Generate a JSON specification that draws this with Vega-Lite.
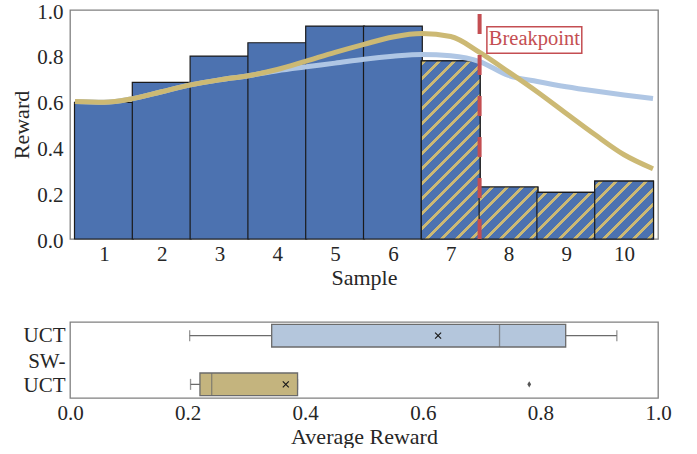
{
  "$schema": "https://vega.github.io/schema/vega-lite/v6.json",
  "background": "white",
  "padding": {"left": 10, "top": 0, "right": 5, "bottom": 0},
  "spacing": 32,
  "config": {
    "font": "Liberation Serif",
    "view": {"stroke": "#808080", "strokeWidth": 1.3},
    "axis": {
      "labelFont": "Liberation Serif", "titleFont": "Liberation Serif",
      "labelFontSize": 21, "titleFontSize": 22, "titleFontWeight": "normal",
      "labelColor": "#262626", "titleColor": "#262626",
      "ticks": false, "domain": false, "grid": false,
      "labelOverlap": false, "labelFlush": false
    },
    "axisX": {"labelPadding": 4, "titlePadding": 3}
  },
  "datasets": {
    "samples": [
      {"Sample": 1, "Reward": 0.597},
      {"Sample": 2, "Reward": 0.684},
      {"Sample": 3, "Reward": 0.799},
      {"Sample": 4, "Reward": 0.857},
      {"Sample": 5, "Reward": 0.930},
      {"Sample": 6, "Reward": 0.930},
      {"Sample": 7, "Reward": 0.778},
      {"Sample": 8, "Reward": 0.227},
      {"Sample": 9, "Reward": 0.2035},
      {"Sample": 10, "Reward": 0.253}
    ],
    "curves": [
      {"Method": "UCT", "Sample": 0.5, "Reward": 0.600},
      {"Method": "UCT", "Sample": 1.0, "Reward": 0.597},
      {"Method": "UCT", "Sample": 1.5, "Reward": 0.613},
      {"Method": "UCT", "Sample": 2.0, "Reward": 0.643},
      {"Method": "UCT", "Sample": 2.5, "Reward": 0.673},
      {"Method": "UCT", "Sample": 3.0, "Reward": 0.695},
      {"Method": "UCT", "Sample": 3.5, "Reward": 0.713},
      {"Method": "UCT", "Sample": 4.0, "Reward": 0.735},
      {"Method": "UCT", "Sample": 4.5, "Reward": 0.752},
      {"Method": "UCT", "Sample": 5.0, "Reward": 0.768},
      {"Method": "UCT", "Sample": 5.5, "Reward": 0.785},
      {"Method": "UCT", "Sample": 6.0, "Reward": 0.798},
      {"Method": "UCT", "Sample": 6.5, "Reward": 0.806},
      {"Method": "UCT", "Sample": 7.0, "Reward": 0.800},
      {"Method": "UCT", "Sample": 7.5, "Reward": 0.775},
      {"Method": "UCT", "Sample": 8.0, "Reward": 0.714},
      {"Method": "UCT", "Sample": 8.5, "Reward": 0.688},
      {"Method": "UCT", "Sample": 9.0, "Reward": 0.665},
      {"Method": "UCT", "Sample": 9.5, "Reward": 0.646},
      {"Method": "UCT", "Sample": 10.0, "Reward": 0.629},
      {"Method": "UCT", "Sample": 10.5, "Reward": 0.614},
      {"Method": "SW-UCT", "Sample": 0.5, "Reward": 0.600},
      {"Method": "SW-UCT", "Sample": 1.0, "Reward": 0.597},
      {"Method": "SW-UCT", "Sample": 1.5, "Reward": 0.613},
      {"Method": "SW-UCT", "Sample": 2.0, "Reward": 0.643},
      {"Method": "SW-UCT", "Sample": 2.5, "Reward": 0.673},
      {"Method": "SW-UCT", "Sample": 3.0, "Reward": 0.695},
      {"Method": "SW-UCT", "Sample": 3.5, "Reward": 0.713},
      {"Method": "SW-UCT", "Sample": 4.0, "Reward": 0.740},
      {"Method": "SW-UCT", "Sample": 4.5, "Reward": 0.777},
      {"Method": "SW-UCT", "Sample": 5.0, "Reward": 0.815},
      {"Method": "SW-UCT", "Sample": 5.5, "Reward": 0.850},
      {"Method": "SW-UCT", "Sample": 6.0, "Reward": 0.882},
      {"Method": "SW-UCT", "Sample": 6.5, "Reward": 0.897},
      {"Method": "SW-UCT", "Sample": 7.0, "Reward": 0.884},
      {"Method": "SW-UCT", "Sample": 7.5, "Reward": 0.815},
      {"Method": "SW-UCT", "Sample": 8.0, "Reward": 0.730},
      {"Method": "SW-UCT", "Sample": 8.5, "Reward": 0.642},
      {"Method": "SW-UCT", "Sample": 9.0, "Reward": 0.548},
      {"Method": "SW-UCT", "Sample": 9.5, "Reward": 0.455},
      {"Method": "SW-UCT", "Sample": 10.0, "Reward": 0.368},
      {"Method": "SW-UCT", "Sample": 10.5, "Reward": 0.307}
    ],
    "annotation": [{"label": "Breakpoint", "Sample": 7.5}],
    "boxes": [
      {"Method": "UCT", "min": 0.2035, "q1": 0.343, "median": 0.7305, "q3": 0.843, "max": 0.930, "mean": 0.626},
      {"Method": "SW-UCT", "min": 0.205, "q1": 0.221, "median": 0.241, "q3": 0.387, "max": 0.387, "mean": 0.367, "outlier": 0.781}
    ]
  },
  "vconcat": [
    {
      "width": 588,
      "height": 229,
      "data": {"name": "samples"},
      "layer": [
        {
          "mark": {"type": "bar", "orient": "vertical", "width": 58.8, "fill": "#4c72b0", "stroke": "#1a1a1a", "strokeWidth": 1.2},
          "encoding": {
            "x": {"field": "Sample", "type": "quantitative",
                  "scale": {"domain": [0.5, 10.5], "nice": false, "zero": false},
                  "axis": {"values": [1, 2, 3, 4, 5, 6, 7, 8, 9, 10], "format": "d", "title": "Sample"}},
            "y": {"field": "Reward", "type": "quantitative",
                  "scale": {"domain": [0, 1], "nice": false},
                  "axis": {"values": [0, 0.2, 0.4, 0.6, 0.8, 1.0], "format": ".1f", "title": "Reward", "labelPadding": 7, "labelOffset": 2, "titlePadding": 3}}
          }
        },
        {
          "transform": [{"filter": "datum.Sample == 7"}],
          "mark": {"type": "bar", "orient": "vertical", "width": 58.8, "stroke": "#1a1a1a", "strokeWidth": 1.2,
            "fill": {"gradient": "linear", "x1": 0, "y1": 0, "x2": 0.39575, "y2": 1.19938, "stops": [
              {"offset": 0, "color": "#4c72b0"},
              {"offset": 0.00591, "color": "#4c72b0"}, {"offset": 0.00591, "color": "#ccb974"}, {"offset": 0.02278, "color": "#ccb974"}, {"offset": 0.02278, "color": "#4c72b0"},
              {"offset": 0.06920, "color": "#4c72b0"}, {"offset": 0.06920, "color": "#ccb974"}, {"offset": 0.08608, "color": "#ccb974"}, {"offset": 0.08608, "color": "#4c72b0"},
              {"offset": 0.13249, "color": "#4c72b0"}, {"offset": 0.13249, "color": "#ccb974"}, {"offset": 0.14937, "color": "#ccb974"}, {"offset": 0.14937, "color": "#4c72b0"},
              {"offset": 0.19578, "color": "#4c72b0"}, {"offset": 0.19578, "color": "#ccb974"}, {"offset": 0.21266, "color": "#ccb974"}, {"offset": 0.21266, "color": "#4c72b0"},
              {"offset": 0.25907, "color": "#4c72b0"}, {"offset": 0.25907, "color": "#ccb974"}, {"offset": 0.27595, "color": "#ccb974"}, {"offset": 0.27595, "color": "#4c72b0"},
              {"offset": 0.32236, "color": "#4c72b0"}, {"offset": 0.32236, "color": "#ccb974"}, {"offset": 0.33924, "color": "#ccb974"}, {"offset": 0.33924, "color": "#4c72b0"},
              {"offset": 0.38565, "color": "#4c72b0"}, {"offset": 0.38565, "color": "#ccb974"}, {"offset": 0.40253, "color": "#ccb974"}, {"offset": 0.40253, "color": "#4c72b0"},
              {"offset": 0.44895, "color": "#4c72b0"}, {"offset": 0.44895, "color": "#ccb974"}, {"offset": 0.46582, "color": "#ccb974"}, {"offset": 0.46582, "color": "#4c72b0"},
              {"offset": 0.51224, "color": "#4c72b0"}, {"offset": 0.51224, "color": "#ccb974"}, {"offset": 0.52911, "color": "#ccb974"}, {"offset": 0.52911, "color": "#4c72b0"},
              {"offset": 0.57553, "color": "#4c72b0"}, {"offset": 0.57553, "color": "#ccb974"}, {"offset": 0.59241, "color": "#ccb974"}, {"offset": 0.59241, "color": "#4c72b0"},
              {"offset": 0.63882, "color": "#4c72b0"}, {"offset": 0.63882, "color": "#ccb974"}, {"offset": 0.65570, "color": "#ccb974"}, {"offset": 0.65570, "color": "#4c72b0"},
              {"offset": 0.70211, "color": "#4c72b0"}, {"offset": 0.70211, "color": "#ccb974"}, {"offset": 0.71899, "color": "#ccb974"}, {"offset": 0.71899, "color": "#4c72b0"},
              {"offset": 0.76540, "color": "#4c72b0"}, {"offset": 0.76540, "color": "#ccb974"}, {"offset": 0.78228, "color": "#ccb974"}, {"offset": 0.78228, "color": "#4c72b0"},
              {"offset": 0.82869, "color": "#4c72b0"}, {"offset": 0.82869, "color": "#ccb974"}, {"offset": 0.84557, "color": "#ccb974"}, {"offset": 0.84557, "color": "#4c72b0"},
              {"offset": 0.89198, "color": "#4c72b0"}, {"offset": 0.89198, "color": "#ccb974"}, {"offset": 0.90886, "color": "#ccb974"}, {"offset": 0.90886, "color": "#4c72b0"},
              {"offset": 0.95527, "color": "#4c72b0"}, {"offset": 0.95527, "color": "#ccb974"}, {"offset": 0.97215, "color": "#ccb974"}, {"offset": 0.97215, "color": "#4c72b0"},
              {"offset": 1, "color": "#4c72b0"}
            ]}},
          "encoding": {
            "x": {"field": "Sample", "type": "quantitative"},
            "y": {"field": "Reward", "type": "quantitative"}
          }
        },
        {
          "transform": [{"filter": "datum.Sample == 8"}],
          "mark": {"type": "bar", "orient": "vertical", "width": 58.8, "stroke": "#1a1a1a", "strokeWidth": 1.2,
            "fill": {"gradient": "linear", "x1": 0, "y1": 0, "x2": 1.05738, "y2": 0.93512, "stops": [
              {"offset": 0, "color": "#4c72b0"},
              {"offset": 0.10289, "color": "#4c72b0"}, {"offset": 0.10289, "color": "#ccb974"}, {"offset": 0.13899, "color": "#ccb974"}, {"offset": 0.13899, "color": "#4c72b0"},
              {"offset": 0.23827, "color": "#4c72b0"}, {"offset": 0.23827, "color": "#ccb974"}, {"offset": 0.27437, "color": "#ccb974"}, {"offset": 0.27437, "color": "#4c72b0"},
              {"offset": 0.37365, "color": "#4c72b0"}, {"offset": 0.37365, "color": "#ccb974"}, {"offset": 0.40975, "color": "#ccb974"}, {"offset": 0.40975, "color": "#4c72b0"},
              {"offset": 0.50903, "color": "#4c72b0"}, {"offset": 0.50903, "color": "#ccb974"}, {"offset": 0.54513, "color": "#ccb974"}, {"offset": 0.54513, "color": "#4c72b0"},
              {"offset": 0.64440, "color": "#4c72b0"}, {"offset": 0.64440, "color": "#ccb974"}, {"offset": 0.68051, "color": "#ccb974"}, {"offset": 0.68051, "color": "#4c72b0"},
              {"offset": 0.77978, "color": "#4c72b0"}, {"offset": 0.77978, "color": "#ccb974"}, {"offset": 0.81588, "color": "#ccb974"}, {"offset": 0.81588, "color": "#4c72b0"},
              {"offset": 0.91516, "color": "#4c72b0"}, {"offset": 0.91516, "color": "#ccb974"}, {"offset": 0.95126, "color": "#ccb974"}, {"offset": 0.95126, "color": "#4c72b0"},
              {"offset": 1, "color": "#4c72b0"}
            ]}},
          "encoding": {
            "x": {"field": "Sample", "type": "quantitative"},
            "y": {"field": "Reward", "type": "quantitative"}
          }
        },
        {
          "transform": [{"filter": "datum.Sample == 9"}],
          "mark": {"type": "bar", "orient": "vertical", "width": 58.8, "stroke": "#1a1a1a", "strokeWidth": 1.2,
            "fill": {"gradient": "linear", "x1": 0, "y1": 0, "x2": 1.10097, "y2": 0.87254, "stops": [
              {"offset": 0, "color": "#4c72b0"},
              {"offset": 0.06831, "color": "#4c72b0"}, {"offset": 0.06831, "color": "#ccb974"}, {"offset": 0.10626, "color": "#ccb974"}, {"offset": 0.10626, "color": "#4c72b0"},
              {"offset": 0.21063, "color": "#4c72b0"}, {"offset": 0.21063, "color": "#ccb974"}, {"offset": 0.24858, "color": "#ccb974"}, {"offset": 0.24858, "color": "#4c72b0"},
              {"offset": 0.35294, "color": "#4c72b0"}, {"offset": 0.35294, "color": "#ccb974"}, {"offset": 0.39089, "color": "#ccb974"}, {"offset": 0.39089, "color": "#4c72b0"},
              {"offset": 0.49526, "color": "#4c72b0"}, {"offset": 0.49526, "color": "#ccb974"}, {"offset": 0.53321, "color": "#ccb974"}, {"offset": 0.53321, "color": "#4c72b0"},
              {"offset": 0.63757, "color": "#4c72b0"}, {"offset": 0.63757, "color": "#ccb974"}, {"offset": 0.67552, "color": "#ccb974"}, {"offset": 0.67552, "color": "#4c72b0"},
              {"offset": 0.77989, "color": "#4c72b0"}, {"offset": 0.77989, "color": "#ccb974"}, {"offset": 0.81784, "color": "#ccb974"}, {"offset": 0.81784, "color": "#4c72b0"},
              {"offset": 0.92220, "color": "#4c72b0"}, {"offset": 0.92220, "color": "#ccb974"}, {"offset": 0.96015, "color": "#ccb974"}, {"offset": 0.96015, "color": "#4c72b0"},
              {"offset": 1, "color": "#4c72b0"}
            ]}},
          "encoding": {
            "x": {"field": "Sample", "type": "quantitative"},
            "y": {"field": "Reward", "type": "quantitative"}
          }
        },
        {
          "transform": [{"filter": "datum.Sample == 10"}],
          "mark": {"type": "bar", "orient": "vertical", "width": 58.8, "stroke": "#1a1a1a", "strokeWidth": 1.2,
            "fill": {"gradient": "linear", "x1": 0, "y1": 0, "x2": 1.00764, "y2": 0.99223, "stops": [
              {"offset": 0, "color": "#4c72b0"},
              {"offset": 0.04027, "color": "#4c72b0"}, {"offset": 0.04027, "color": "#ccb974"}, {"offset": 0.07455, "color": "#ccb974"}, {"offset": 0.07455, "color": "#4c72b0"},
              {"offset": 0.16881, "color": "#4c72b0"}, {"offset": 0.16881, "color": "#ccb974"}, {"offset": 0.20308, "color": "#ccb974"}, {"offset": 0.20308, "color": "#4c72b0"},
              {"offset": 0.29734, "color": "#4c72b0"}, {"offset": 0.29734, "color": "#ccb974"}, {"offset": 0.33162, "color": "#ccb974"}, {"offset": 0.33162, "color": "#4c72b0"},
              {"offset": 0.42588, "color": "#4c72b0"}, {"offset": 0.42588, "color": "#ccb974"}, {"offset": 0.46015, "color": "#ccb974"}, {"offset": 0.46015, "color": "#4c72b0"},
              {"offset": 0.55441, "color": "#4c72b0"}, {"offset": 0.55441, "color": "#ccb974"}, {"offset": 0.58869, "color": "#ccb974"}, {"offset": 0.58869, "color": "#4c72b0"},
              {"offset": 0.68295, "color": "#4c72b0"}, {"offset": 0.68295, "color": "#ccb974"}, {"offset": 0.71722, "color": "#ccb974"}, {"offset": 0.71722, "color": "#4c72b0"},
              {"offset": 0.81148, "color": "#4c72b0"}, {"offset": 0.81148, "color": "#ccb974"}, {"offset": 0.84576, "color": "#ccb974"}, {"offset": 0.84576, "color": "#4c72b0"},
              {"offset": 0.94002, "color": "#4c72b0"}, {"offset": 0.94002, "color": "#ccb974"}, {"offset": 0.97429, "color": "#ccb974"}, {"offset": 0.97429, "color": "#4c72b0"},
              {"offset": 1, "color": "#4c72b0"}
            ]}},
          "encoding": {
            "x": {"field": "Sample", "type": "quantitative"},
            "y": {"field": "Reward", "type": "quantitative"}
          }
        },
        {
          "data": {"name": "curves"},
          "transform": [{"filter": "datum.Method == 'UCT'"}],
          "mark": {"type": "line", "stroke": "#afc6e4", "strokeWidth": 5, "interpolate": "monotone"},
          "encoding": {
            "x": {"field": "Sample", "type": "quantitative"},
            "y": {"field": "Reward", "type": "quantitative"}
          }
        },
        {
          "data": {"name": "curves"},
          "transform": [{"filter": "datum.Method == 'SW-UCT'"}],
          "mark": {"type": "line", "stroke": "#ccb974", "strokeWidth": 5, "interpolate": "monotone"},
          "encoding": {
            "x": {"field": "Sample", "type": "quantitative"},
            "y": {"field": "Reward", "type": "quantitative"}
          }
        },
        {
          "data": {"name": "annotation"},
          "mark": {"type": "rule", "stroke": "#c44e52", "strokeWidth": 4, "strokeDash": [20, 21]},
          "encoding": {
            "x": {"field": "Sample", "type": "quantitative"},
            "y": {"datum": 0, "type": "quantitative"},
            "y2": {"datum": 1}
          }
        },
        {
          "data": {"name": "annotation"},
          "mark": {"type": "rect", "fill": "white", "stroke": "#c44e52", "strokeWidth": 1.5},
          "encoding": {
            "x": {"datum": 7.626, "type": "quantitative"},
            "x2": {"datum": 9.268},
            "y": {"datum": 0.927, "type": "quantitative"},
            "y2": {"datum": 0.811}
          }
        },
        {
          "data": {"name": "annotation"},
          "mark": {"type": "text", "color": "#c44e52", "fontSize": 20.5, "font": "Liberation Serif", "baseline": "alphabetic", "align": "center"},
          "encoding": {
            "x": {"datum": 8.447, "type": "quantitative"},
            "y": {"datum": 0.847, "type": "quantitative"},
            "text": {"field": "label"}
          }
        }
      ]
    },
    {
      "width": 588,
      "height": 76,
      "data": {"name": "boxes"},
      "encoding": {
        "y": {"field": "Method", "type": "nominal",
              "scale": {"domain": ["UCT", "SW-UCT"], "paddingInner": 0.534, "paddingOuter": 0.047},
              "axis": {"title": null, "labelExpr": "datum.value == 'SW-UCT' ? ['SW-', 'UCT'] : datum.value",
                       "labelLineHeight": 24, "labelPadding": 5,
                       "labelOffset": {"condition": {"test": "datum.value == 'SW-UCT'", "value": -22}, "value": 0.5}}}
      },
      "layer": [
        {
          "mark": {"type": "rule", "stroke": "#6b6b6b", "strokeWidth": 1.3},
          "encoding": {
            "x": {"field": "min", "type": "quantitative",
                  "scale": {"domain": [0, 1], "nice": false},
                  "axis": {"values": [0, 0.2, 0.4, 0.6, 0.8, 1.0], "format": ".1f", "title": "Average Reward"}},
            "x2": {"field": "max"}
          }
        },
        {
          "mark": {"type": "tick", "color": "#6b6b6b", "size": 11, "thickness": 1.3},
          "encoding": {"x": {"field": "min", "type": "quantitative"}}
        },
        {
          "mark": {"type": "tick", "color": "#6b6b6b", "size": 11, "thickness": 1.3},
          "encoding": {"x": {"field": "max", "type": "quantitative"}}
        },
        {
          "mark": {"type": "bar", "stroke": "#6b6b6b", "strokeWidth": 1.3},
          "encoding": {
            "x": {"field": "q1", "type": "quantitative"},
            "x2": {"field": "q3"},
            "fill": {"field": "Method", "type": "nominal", "scale": {"domain": ["UCT", "SW-UCT"], "range": ["#b4c6dc", "#c4b47e"]}, "legend": null}
          }
        },
        {
          "mark": {"type": "tick", "color": "#6b6b6b", "size": 22.7, "thickness": 1.3},
          "encoding": {"x": {"field": "median", "type": "quantitative"}}
        },
        {
          "mark": {"type": "point", "shape": "M-1,-1L1,1M-1,1L1,-1", "filled": false, "stroke": "#1a1a1a", "strokeWidth": 1.2, "size": 36, "opacity": 1},
          "encoding": {"x": {"field": "mean", "type": "quantitative"}}
        },
        {
          "mark": {"type": "point", "shape": "M0,-1L0.6,0L0,1L-0.6,0Z", "filled": true, "fill": "#555555", "size": 40, "opacity": 1},
          "encoding": {"x": {"field": "outlier", "type": "quantitative"}}
        }
      ]
    }
  ]
}
